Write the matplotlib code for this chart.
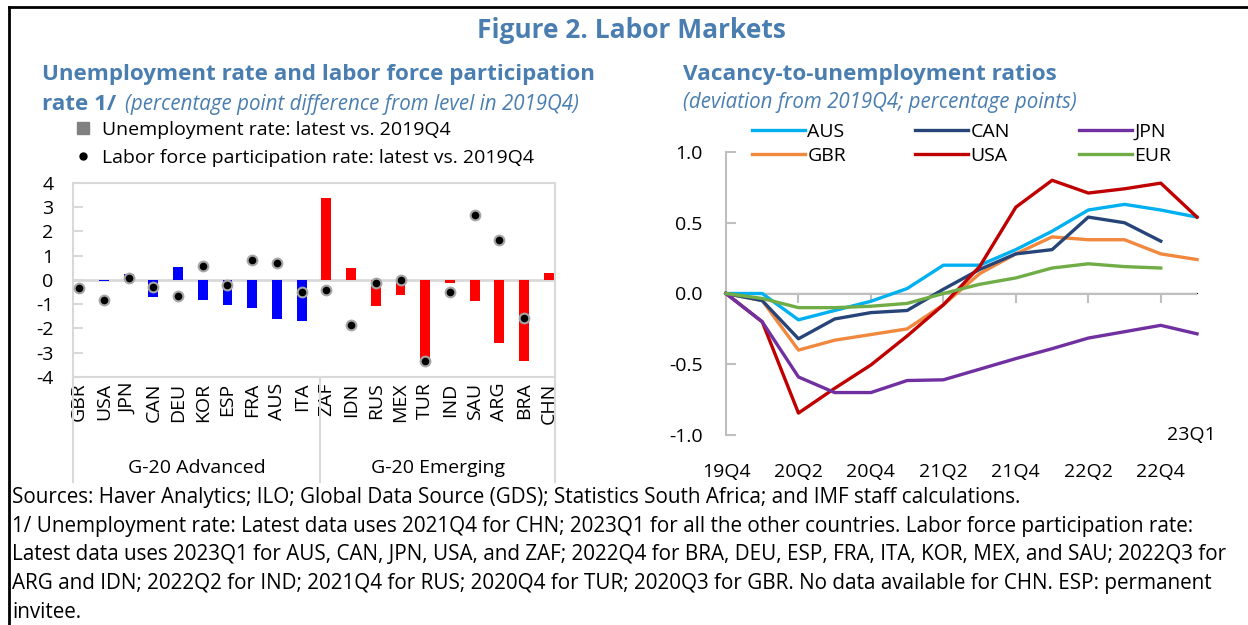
import numpy as np
import matplotlib
matplotlib.use("Agg")
import matplotlib.pyplot as plt
from matplotlib.lines import Line2D

plt.rcParams['font.family'] = ['Open Sans', 'DejaVu Sans']

# Данные: левая панель
countries = ['GBR', 'USA', 'JPN', 'CAN', 'DEU', 'KOR', 'ESP', 'FRA', 'AUS', 'ITA',
             'ZAF', 'IDN', 'RUS', 'MEX', 'TUR', 'IND', 'SAU', 'ARG', 'BRA', 'CHN']
unemp = [0.0, -0.05, 0.25, -0.7, 0.52, -0.84, -1.03, -1.15, -1.6, -1.7,
         3.4, 0.5, -1.08, -0.6, -3.3, -0.13, -0.88, -2.6, -3.35, 0.29]
lfp = [-0.31, -0.83, 0.08, -0.27, -0.68, 0.58, -0.2, 0.81, 0.69, -0.5,
       -0.4, -1.85, -0.12, 0.0, -3.32, -0.48, 2.66, 1.66, -1.56, np.nan]
n_adv = 10

# Данные: правая панель
quarters = ['19Q4', '20Q1', '20Q2', '20Q3', '20Q4', '21Q1', '21Q2', '21Q3',
            '21Q4', '22Q1', '22Q2', '22Q3', '22Q4', '23Q1']
aus = [0, 0, -0.186, -0.12, -0.055, 0.035, 0.2, 0.2, 0.31, 0.44, 0.59, 0.63, 0.59, 0.54]
can = [0, -0.05, -0.32, -0.18, -0.135, -0.12, 0.03, 0.17, 0.28, 0.31, 0.54, 0.50, 0.37, np.nan]
jpn = [0, -0.2, -0.59, -0.70, -0.70, -0.615, -0.61, -0.535, -0.46, -0.39, -0.315, -0.27, -0.225, -0.285]
gbr = [0, -0.05, -0.40, -0.33, -0.29, -0.25, -0.08, 0.14, 0.28, 0.40, 0.38, 0.38, 0.28, 0.24]
usa = [0, -0.2, -0.845, -0.67, -0.505, -0.30, -0.08, 0.19, 0.61, 0.80, 0.71, 0.74, 0.78, 0.54]
eur = [0, -0.035, -0.10, -0.10, -0.09, -0.07, 0.0, 0.065, 0.11, 0.18, 0.21, 0.19, 0.18, np.nan]

W, H = 1248, 625
blue_t = '#4a7eb0'
grid_c = '#d9d9d9'
fs = 14


def fx(x):
    return x / W


def fy(y):
    return 1 - y / H


fig = plt.figure(figsize=(W / 100, H / 100), dpi=100)

# рамка
fig.add_artist(Line2D([fx(9), 1], [fy(7), fy(7)], color='black', lw=2))
fig.add_artist(Line2D([fx(9), fx(9)], [fy(7), 0], color='black', lw=2))

# заголовки
fig.text(fx(631), fy(30), 'Figure 2. Labor Markets', ha='center', va='center',
         fontsize=19, fontweight='bold', color=blue_t)
fig.text(fx(42), fy(80), 'Unemployment rate and labor force participation',
         fontsize=16.1, fontweight='bold', color=blue_t)
fig.text(fx(42), fy(110), 'rate 1/', fontsize=16.1, fontweight='bold', color=blue_t)
fig.text(fx(125), fy(110), '(percentage point difference from level in 2019Q4)',
         fontsize=14.8, style='italic', color=blue_t)
fig.text(fx(683), fy(80), 'Vacancy-to-unemployment ratios',
         fontsize=16.2, fontweight='bold', color=blue_t)
fig.text(fx(683), fy(108), '(deviation from 2019Q4; percentage points)',
         fontsize=14.8, style='italic', color=blue_t)

# ---- левая панель
ax1 = fig.add_axes([fx(73), fy(377), (555 - 73) / W, (377 - 183) / H])
x = np.arange(len(countries))
colors = ['#0000ff'] * n_adv + ['#ff0000'] * (len(countries) - n_adv)
ax1.bar(x, unemp, width=0.4, color=colors, zorder=2)
ax1.plot(x, lfp, 'o', color='black', markersize=7, markeredgecolor='#a6a6a6',
         markeredgewidth=1.5, zorder=3, clip_on=False)
ax1.axhline(0, color=grid_c, lw=2, zorder=1)
ax1.set_xlim(-0.25, len(countries) - 0.75)
ax1.set_ylim(-4, 4)
ax1.set_yticks(range(-4, 5))
ax1.set_yticklabels([str(v) for v in range(-4, 5)])
ax1.tick_params(axis='y', direction='in', length=7, color=grid_c, width=1.5,
                labelsize=fs, pad=14)
ax1.set_xticks(x)
ax1.set_xticklabels(countries, rotation=90, fontsize=fs)
ax1.tick_params(axis='x', length=0, pad=4)
for s in ax1.spines.values():
    s.set_color(grid_c)
    s.set_linewidth(1.5)
# разделители групп
bot = -(482 - 377) / (377 - 183)
tr = ax1.get_xaxis_transform()
for xv in [-0.25, n_adv - 0.25, len(countries) - 0.75]:
    ax1.plot([xv, xv], [0, bot], color=grid_c, lw=1.5, transform=tr, clip_on=False)
ly = -(468 - 377) / (377 - 183)
ax1.text((n_adv - 0.25 - 0.25) / 2, ly, 'G-20 Advanced', transform=tr,
         ha='center', va='center', fontsize=fs)
ax1.text((n_adv - 0.25 + len(countries) - 0.75) / 2, ly, 'G-20 Emerging', transform=tr,
         ha='center', va='center', fontsize=fs)

h1 = [Line2D([], [], marker='s', color='#808080', ls='none', markersize=8),
      Line2D([], [], marker='o', color='black', ls='none', markersize=5)]
fig.legend(h1, ['Unemployment rate: latest vs. 2019Q4',
                'Labor force participation rate: latest vs. 2019Q4'],
           loc='upper left', bbox_to_anchor=(fx(71), fy(121)), frameon=False,
           fontsize=fs, handletextpad=0.4, labelspacing=0.5, borderpad=0,
           borderaxespad=0, handlelength=1.2)

# ---- правая панель
ax2 = fig.add_axes([fx(726), fy(435), (1197 - 726) / W, (435 - 152) / H])
t = np.arange(len(quarters))
series = [('AUS', aus, '#00b0f0'), ('GBR', gbr, '#f0883e'),
          ('CAN', can, '#264478'), ('USA', usa, '#c00000'),
          ('JPN', jpn, '#7030a0'), ('EUR', eur, '#70ad47')]
for name, vals, c in series:
    ax2.plot(t, vals, color=c, lw=2.4, label=name, zorder=3, clip_on=False)
ax2.set_xlim(0, len(quarters) - 1)
ax2.set_ylim(-1, 1)
ax2.set_yticks([-1, -0.5, 0, 0.5, 1])
ax2.set_yticklabels(['-1.0', '-0.5', '0.0', '0.5', '1.0'])
ax2.tick_params(axis='y', direction='in', length=7, color='#bfbfbf', width=1.5,
                labelsize=fs, pad=17)
ax2.set_xticks(t[::2])
ax2.set_xticklabels(quarters[::2], fontsize=fs)
ax2.tick_params(axis='x', length=0, pad=20)
for k in ['top', 'right', 'bottom']:
    ax2.spines[k].set_visible(False)
ax2.spines['left'].set_color('#bfbfbf')
ax2.spines['left'].set_linewidth(1.5)
ax2.axhline(0, color='#bfbfbf', lw=1.5, zorder=1)
sec = ax2.secondary_xaxis(0.5)
sec.set_xticks(t[::2])
sec.set_xticklabels([])
sec.tick_params(direction='in', length=7, color='#bfbfbf', width=1.5)
sec.spines['bottom'].set_visible(False)
ax2.text(len(quarters) - 1.15, -1.0, quarters[-1], ha='center', va='center', fontsize=fs)

fig.legend(loc='upper left', bbox_to_anchor=(fx(752), fy(123)), ncol=3, frameon=False,
           fontsize=fs, handlelength=2.7, handletextpad=0.15, columnspacing=3.55,
           labelspacing=0.3, borderpad=0, borderaxespad=0)

# сноски
notes = [
    'Sources: Haver Analytics; ILO; Global Data Source (GDS); Statistics South Africa; and IMF staff calculations.',
    '1/ Unemployment rate: Latest data uses 2021Q4 for CHN; 2023Q1 for all the other countries. Labor force participation rate:',
    'Latest data uses 2023Q1 for AUS, CAN, JPN, USA, and ZAF; 2022Q4 for BRA, DEU, ESP, FRA, ITA, KOR, MEX, and SAU; 2022Q3 for',
    'ARG and IDN; 2022Q2 for IND; 2021Q4 for RUS; 2020Q4 for TUR; 2020Q3 for GBR. No data available for CHN. ESP: permanent',
    'invitee.',
]
for i, line in enumerate(notes):
    fig.text(fx(12), fy(498 + i * 28.5), line, va='center', fontsize=14.9)

fig.savefig('out.png', dpi=100)
